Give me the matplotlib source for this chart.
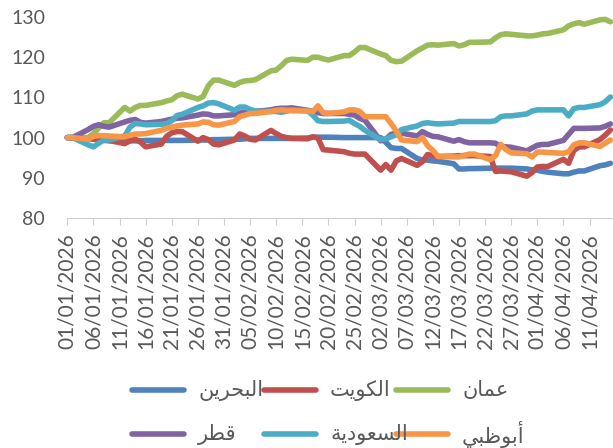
import matplotlib
matplotlib.use("Agg")
import matplotlib.pyplot as plt
import matplotlib.transforms as mtransforms
from matplotlib.lines import Line2D
import pandas as pd

# trading days (Mon-Fri) from 01/01/2026 to 15/04/2026
dates = pd.bdate_range("2026-01-01", "2026-04-15")
tick_dates = pd.date_range("2026-01-01", "2026-04-11", freq="5D")

bahrain = [100, 100, 99.9, 99.7, 99.5, 99.3, 99.2, 99.2, 99.2, 99.2, 99.2, 99.3, 99.3, 99.3, 99.3,
           99.3, 99.3, 99.4, 99.4, 99.4, 99.5, 99.5, 99.6, 99.6, 99.7, 99.8, 99.8, 99.8, 99.8, 99.8,
           99.8, 99.8, 99.9, 100.1, 100.1, 100.1, 100.1, 100, 100, 100, 100, 100, 100, 98.8, 97.5,
           97.3, 97.3, 94.8, 94.4, 94.4, 94.2, 94.1, 93.5, 92.2, 92.2, 92.3, 92.3, 92.4, 92.4, 92.4,
           92.4, 92.4, 92.2, 92, 91.9, 91.6, 91.4, 91, 91, 91.4, 91.7, 91.7, 93, 93.2, 93.6]
kuwait = [100, 100, 99.7, 99.6, 99.5, 99.5, 99.3, 98.5, 99.2, 99.6, 98.9, 97.7, 98.4, 100.3, 101.2,
          101.5, 101.5, 99.1, 100, 99.5, 98.4, 98.2, 99.4, 100.9, 100.4, 99.6, 99.4, 101.8, 101, 100.3,
          100, 99.8, 99.7, 100.2, 99.9, 97, 96.9, 96.5, 96.1, 95.9, 95.9, 95.9, 91.9, 93.3, 91.9,
          94.2, 94.8, 93.1, 94, 95.8, 95.5, 95.3, 95.4, 95.5, 95.5, 95.5, 95.5, 95.3, 91.6, 91.7,
          91.6, 91.5, 90.4, 91.3, 92.7, 92.8, 92.8, 94.6, 93.6, 96.8, 97.7, 97.7, 99.5, 100.6, 101.9]
oman = [100, 100, 100, 101, 102.4, 103.7, 103.7, 107.5, 106.6, 107.5, 108, 108, 108.7, 109.1, 109.4,
        110.4, 110.8, 109.6, 110.2, 112.9, 114.3, 114.3, 113, 113.7, 114.1, 114.2, 114.4, 116.6, 116.8, 117.9,
        119.2, 119.5, 119.2, 120, 120, 119.6, 119.3, 120.4, 120.4, 121.3, 122.4, 122.4, 120.8, 120.4, 119.2,
        118.9, 119, 121.6, 122.3, 123, 123.1, 123, 123.4, 122.8, 123.1, 123.7, 123.7, 123.8, 124.8, 125.6,
        125.8, 125.7, 125.3, 125.3, 125.5, 125.8, 125.9, 126.8, 127.8, 128.3, 128.6, 128.2, 129.3, 129.4, 128.8]
qatar = [100, 100, 102, 102.8, 103.2, 102.8, 102.6, 103.9, 104.3, 104.5, 103.8, 103.6, 104, 104.3, 104.6,
         104.8, 104.9, 105.6, 105.9, 105.8, 105.4, 105.4, 105.7, 106.1, 106.3, 106.4, 106.5, 106.9, 107.2, 107.3,
         107.3, 107.4, 106.8, 106.5, 106.2, 106, 106, 106, 105.8, 105.6, 104.8, 104.3, 99.2, 99.6, 100.8,
         101.1, 101.1, 100.4, 101.5, 100.8, 100.3, 100.2, 99.1, 99.5, 99, 98.7, 98.7, 98.7, 98.6, 97.8,
         97.7, 97.6, 96.7, 97.4, 98.1, 98.3, 98.3, 99.3, 100.8, 102.3, 102.3, 102.3, 102.4, 102.8, 103.4]
saudi = [100, 100, 98.2, 97.7, 98.6, 99.4, 99.4, 100.4, 102.6, 103.5, 103.4, 103.2, 103.3, 103.5, 104.2,
         105.5, 105.8, 107.5, 107.9, 108.6, 108.7, 108.4, 106.8, 107.6, 107.6, 107, 106.6, 106.5, 106.5, 106.3,
         106.6, 106.9, 106.7, 105.6, 104.2, 104, 104, 104.1, 104.3, 103.5, 102.8, 101.8, 99.5, 99.7, 100.2,
         100.7, 102, 102.9, 103.5, 103.7, 103.5, 103.4, 103.6, 104, 104, 104, 104, 104, 104.2, 105.2,
         105.4, 105.4, 105.9, 106.6, 106.9, 106.9, 106.9, 106.9, 105.4, 107.2, 107.5, 107.5, 108.2, 108.9, 110.1]
abudhabi = [100, 100, 99.6, 100.3, 100.5, 100.5, 100.4, 100.2, 100.6, 100.9, 100.9, 101, 101.8, 102.3, 102.6,
            102.9, 103.1, 103.4, 103.9, 103.8, 103.2, 103.1, 104, 105.2, 105.6, 106, 106, 106.5, 106.8, 106.9,
            106.8, 106.7, 106.6, 106.4, 107.9, 106.2, 106, 106.4, 106.9, 106.9, 106.5, 105.2, 105.2, 105.2, 103.5,
            101.6, 99.4, 99, 100, 98, 96.8, 95.3, 95.2, 95.2, 95.6, 95.9, 95.9, 94.5, 95.5, 98.3,
            97, 96.2, 96, 95.2, 96.4, 96.4, 96.3, 96.1, 96.5, 98.2, 98.7, 98.7, 97.8, 98.6, 99.4]

names = ["البحرين", "الكويت", "عمان", "قطر", "السعودية", "أبوظبي"]
series = [bahrain, kuwait, oman, qatar, saudi, abudhabi]
colors = ["#4F81BD", "#C0504D", "#9BBB59", "#8064A2", "#4BACC6", "#F79646"]

# matplotlib has no arabic shaping, so pick presentation forms by hand
FORMS = {  # isolated, final, initial, medial
    "ا": ("\uFE8D", "\uFE8E", None, None),
    "أ": ("\uFE83", "\uFE84", None, None),
    "ب": ("\uFE8F", "\uFE90", "\uFE91", "\uFE92"),
    "ت": ("\uFE95", "\uFE96", "\uFE97", "\uFE98"),
    "ة": ("\uFE93", "\uFE94", None, None),
    "ح": ("\uFEA1", "\uFEA2", "\uFEA3", "\uFEA4"),
    "د": ("\uFEA9", "\uFEAA", None, None),
    "ر": ("\uFEAD", "\uFEAE", None, None),
    "س": ("\uFEB1", "\uFEB2", "\uFEB3", "\uFEB4"),
    "ط": ("\uFEC1", "\uFEC2", "\uFEC3", "\uFEC4"),
    "ظ": ("\uFEC5", "\uFEC6", "\uFEC7", "\uFEC8"),
    "ع": ("\uFEC9", "\uFECA", "\uFECB", "\uFECC"),
    "ق": ("\uFED5", "\uFED6", "\uFED7", "\uFED8"),
    "ك": ("\uFED9", "\uFEDA", "\uFEDB", "\uFEDC"),
    "ل": ("\uFEDD", "\uFEDE", "\uFEDF", "\uFEE0"),
    "م": ("\uFEE1", "\uFEE2", "\uFEE3", "\uFEE4"),
    "ن": ("\uFEE5", "\uFEE6", "\uFEE7", "\uFEE8"),
    "و": ("\uFEED", "\uFEEE", None, None),
    "ي": ("\uFEF1", "\uFEF2", "\uFEF3", "\uFEF4"),
}


def shape(word):
    out = []
    for i, ch in enumerate(word):
        iso, fin, ini, med = FORMS[ch]
        prev_joins = i > 0 and FORMS[word[i - 1]][2] is not None
        next_joins = i < len(word) - 1 and ini is not None
        if prev_joins and next_joins:
            out.append(med)
        elif prev_joins:
            out.append(fin)
        elif next_joins:
            out.append(ini)
        else:
            out.append(iso)
    return "".join(reversed(out))


plt.rcParams["font.family"] = ["Lato", "DejaVu Sans"]
grey = "#595959"

W, H = 613, 448
fig = plt.figure(figsize=(W / 100, H / 100), dpi=100)
ax = fig.add_axes([67.3 / W, 1 - 218 / H, 1 - 67.3 / W, (218 - 17) / H])

for vals, color in zip(series, colors):
    ax.plot(dates, vals, color=color, lw=4, solid_capstyle="round",
            solid_joinstyle="round", clip_on=False)

ax.set_ylim(80, 130)
ax.set_yticks(range(80, 131, 10))
ax.set_xlim(dates[0], dates[0] + pd.Timedelta(days=104.5))
ax.set_xticks(tick_dates)
ax.set_xticklabels([d.strftime("%d/%m/%Y") for d in tick_dates], rotation=90,
                   fontsize=15, color=grey)
for lab in ax.get_xticklabels():
    lab.set_transform(lab.get_transform() +
                      mtransforms.ScaledTranslation(4 / 100, 0, fig.dpi_scale_trans))
ax.tick_params(axis="y", length=0, pad=16, labelsize=14, labelcolor=grey)
ax.tick_params(axis="x", length=5, width=0.8, color="#D0D0D0", pad=6)

for s in ["top", "right", "left"]:
    ax.spines[s].set_visible(False)
ax.spines["bottom"].set_color("#D0D0D0")
ax.spines["bottom"].set_linewidth(0.8)

# legend, two rows of three, drawn in pixel positions like the original
for i, (name, color) in enumerate(zip(names, colors)):
    row, col = divmod(i, 3)
    x0 = 132 + 132 * col
    y = 1 - (390 + 44 * row) / H
    fig.add_artist(Line2D([x0 / W, (x0 + 52) / W], [y, y], color=color, lw=4,
                          solid_capstyle="round", transform=fig.transFigure))
    fig.text((x0 + 66) / W, y, shape(name), fontsize=15, color=grey,
             family=["DejaVu Sans"], ha="left", va="center")

fig.savefig("out.png", dpi=100)
